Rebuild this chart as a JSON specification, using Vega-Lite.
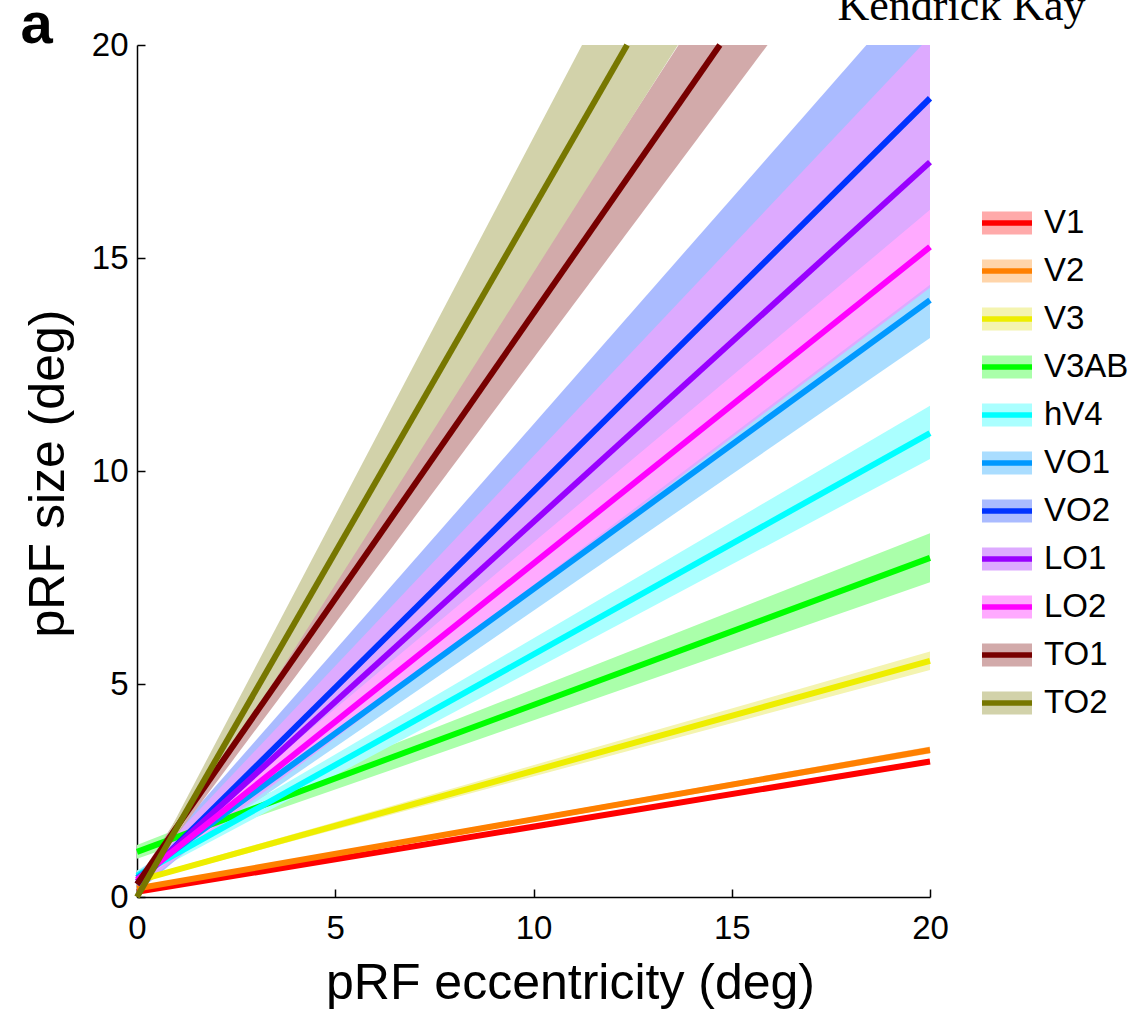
{
  "$schema": "https://vega.github.io/schema/vega-lite/v6.json",
  "width": 793,
  "height": 852,
  "autosize": {"type": "none"},
  "padding": {"left": 137, "top": 45, "right": 207, "bottom": 113},
  "background": "white",
  "config": {
    "view": {"stroke": null},
    "axis": {
      "labelFont": "Liberation Sans", "labelFontSize": 33, "labelColor": "black", "labelFlush": false,
      "titleFont": "Liberation Sans", "titleFontSize": 50, "titleFontWeight": "normal", "titleColor": "black",
      "domainColor": "black", "domainWidth": 1.5, "tickColor": "black", "tickWidth": 1.5, "grid": false
    }
  },
  "datasets": {
    "bands": [
      {"Area": "V1", "ecc": 0, "lo": 0.08, "hi": 0.16}, {"Area": "V1", "ecc": 20, "lo": 3.12, "hi": 3.24},
      {"Area": "V2", "ecc": 0, "lo": 0.16, "hi": 0.24}, {"Area": "V2", "ecc": 20, "lo": 3.37, "hi": 3.53},
      {"Area": "V3", "ecc": 0, "lo": 0.33, "hi": 0.43}, {"Area": "V3", "ecc": 20, "lo": 5.33, "hi": 5.76},
      {"Area": "V3AB", "ecc": 0, "lo": 0.9, "hi": 1.22}, {"Area": "V3AB", "ecc": 20, "lo": 7.39, "hi": 8.54},
      {"Area": "hV4", "ecc": 0, "lo": 0.38, "hi": 0.62}, {"Area": "hV4", "ecc": 20, "lo": 10.28, "hi": 11.53},
      {"Area": "VO1", "ecc": 0, "lo": 0.32, "hi": 0.58}, {"Area": "VO1", "ecc": 20, "lo": 13.12, "hi": 14.9},
      {"Area": "VO2", "ecc": 0, "lo": 0.1, "hi": 0.5}, {"Area": "VO2", "ecc": 20, "lo": 15.8, "hi": 21.7},
      {"Area": "LO1", "ecc": 0, "lo": 0.2, "hi": 0.5}, {"Area": "LO1", "ecc": 20, "lo": 14.3, "hi": 20.2},
      {"Area": "LO2", "ecc": 0, "lo": 0.28, "hi": 0.52}, {"Area": "LO2", "ecc": 20, "lo": 14.37, "hi": 16.13},
      {"Area": "TO1", "ecc": 0, "lo": 0.2, "hi": 0.4}, {"Area": "TO1", "ecc": 20, "lo": 25.1, "hi": 29.1},
      {"Area": "TO2", "ecc": 0, "lo": 0, "hi": 0.1}, {"Area": "TO2", "ecc": 20, "lo": 29.32, "hi": 35.56}
    ],
    "lines": [
      {"ROI": "V1", "ecc": 0, "size": 0.12}, {"ROI": "V1", "ecc": 20, "size": 3.18},
      {"ROI": "V2", "ecc": 0, "size": 0.2}, {"ROI": "V2", "ecc": 20, "size": 3.45},
      {"ROI": "V3", "ecc": 0, "size": 0.38}, {"ROI": "V3", "ecc": 20, "size": 5.545},
      {"ROI": "V3AB", "ecc": 0, "size": 1.06}, {"ROI": "V3AB", "ecc": 20, "size": 7.96},
      {"ROI": "hV4", "ecc": 0, "size": 0.5}, {"ROI": "hV4", "ecc": 20, "size": 10.89},
      {"ROI": "VO1", "ecc": 0, "size": 0.45}, {"ROI": "VO1", "ecc": 20, "size": 14.01},
      {"ROI": "VO2", "ecc": 0, "size": 0.3}, {"ROI": "VO2", "ecc": 20, "size": 18.75},
      {"ROI": "LO1", "ecc": 0, "size": 0.36}, {"ROI": "LO1", "ecc": 20, "size": 17.25},
      {"ROI": "LO2", "ecc": 0, "size": 0.4}, {"ROI": "LO2", "ecc": 20, "size": 15.26},
      {"ROI": "TO1", "ecc": 0, "size": 0.3}, {"ROI": "TO1", "ecc": 14.7, "size": 20},
      {"ROI": "TO2", "ecc": 0, "size": 0}, {"ROI": "TO2", "ecc": 12.36, "size": 20}
    ]
  },
  "layer": [
    {
      "data": {"name": "bands"},
      "mark": {"type": "area", "clip": true, "opacity": 1, "interpolate": "linear"},
      "encoding": {
        "x": {"field": "ecc", "type": "quantitative", "scale": {"domain": [0, 20], "nice": false},
          "axis": {"orient": "bottom", "values": [0, 5, 10, 15, 20], "tickSize": -8, "labelPadding": 23,
            "title": "pRF eccentricity (deg)", "titleX": 433, "titleY": 101, "titleBaseline": "alphabetic", "titleAlign": "center", "titleAngle": 0}},
        "y": {"field": "lo", "type": "quantitative", "stack": null, "scale": {"domain": [0, 20], "nice": false},
          "axis": {"orient": "left", "values": [0, 5, 10, 15, 20], "tickSize": -8, "labelPadding": 17,
            "title": "pRF size (deg)", "titleX": -74, "titleY": 428, "titleAngle": -90, "titleBaseline": "alphabetic", "titleAlign": "center"}},
        "y2": {"field": "hi"},
        "fill": {"field": "Area", "type": "nominal",
          "scale": {"domain": ["V1", "V2", "V3", "V3AB", "hV4", "VO1", "VO2", "LO1", "LO2", "TO1", "TO2"],
            "range": ["#FFAAAA", "#FFD5AA", "#F4F4B0", "#AAFFAA", "#AAFFFF", "#AADDFF", "#AABBFF", "#DDAAFF", "#FFAAFF", "#D2AAAA", "#D2D2AA"]},
          "legend": {"orient": "none", "legendX": 852, "legendY": 160, "title": null, "padding": 0,
            "symbolType": "M-1.667,-0.767H1.667V0.767H-1.667Z", "symbolSize": 900, "symbolStrokeWidth": 5.5, "symbolStrokeColor": "transparent", "symbolOpacity": 1,
            "labelFont": "Liberation Sans", "labelFontSize": 33, "labelColor": "black", "labelOffset": 19, "rowPadding": 2}}
      }
    },
    {
      "data": {"name": "lines"},
      "mark": {"type": "line", "strokeWidth": 6},
      "encoding": {
        "x": {"field": "ecc", "type": "quantitative",
          "axis": {"orient": "top", "domain": false, "ticks": false, "labels": false, "title": "a",
            "titleX": -117, "titleY": -3, "titleBaseline": "alphabetic", "titleAlign": "left", "titleAngle": 0, "titleFontWeight": "bold", "titleFontSize": 58}},
        "y": {"field": "size", "type": "quantitative",
          "axis": {"orient": "right", "domain": false, "ticks": false, "labels": false, "title": "Kendrick Kay",
            "titleX": 155, "titleY": -26, "titleAngle": 0, "titleAlign": "right", "titleBaseline": "alphabetic", "titleFont": "Liberation Serif", "titleFontSize": 44}},
        "stroke": {"field": "ROI", "type": "nominal",
          "sort": ["V1", "V2", "V3", "V3AB", "hV4", "VO1", "VO2", "LO1", "LO2", "TO1", "TO2"],
          "scale": {"range": ["#FF0000", "#FF8000", "#EEEE00", "#00FF00", "#00FFFF", "#0099FF", "#0033FF", "#9900FF", "#FF00FF", "#770000", "#777700"]},
          "legend": {"orient": "none", "legendX": 852, "legendY": 160, "title": null, "padding": 0,
            "symbolType": "M-1.667,0H1.667", "symbolSize": 900, "symbolStrokeWidth": 5.5, "symbolFillColor": "transparent", "symbolOpacity": 1,
            "labelFont": "Liberation Sans", "labelFontSize": 33, "labelColor": "black", "labelOffset": 19, "rowPadding": 13, "labelExpr": "''"}}
      }
    }
  ],
  "resolve": {"axis": {"x": "independent", "y": "independent"}}
}
